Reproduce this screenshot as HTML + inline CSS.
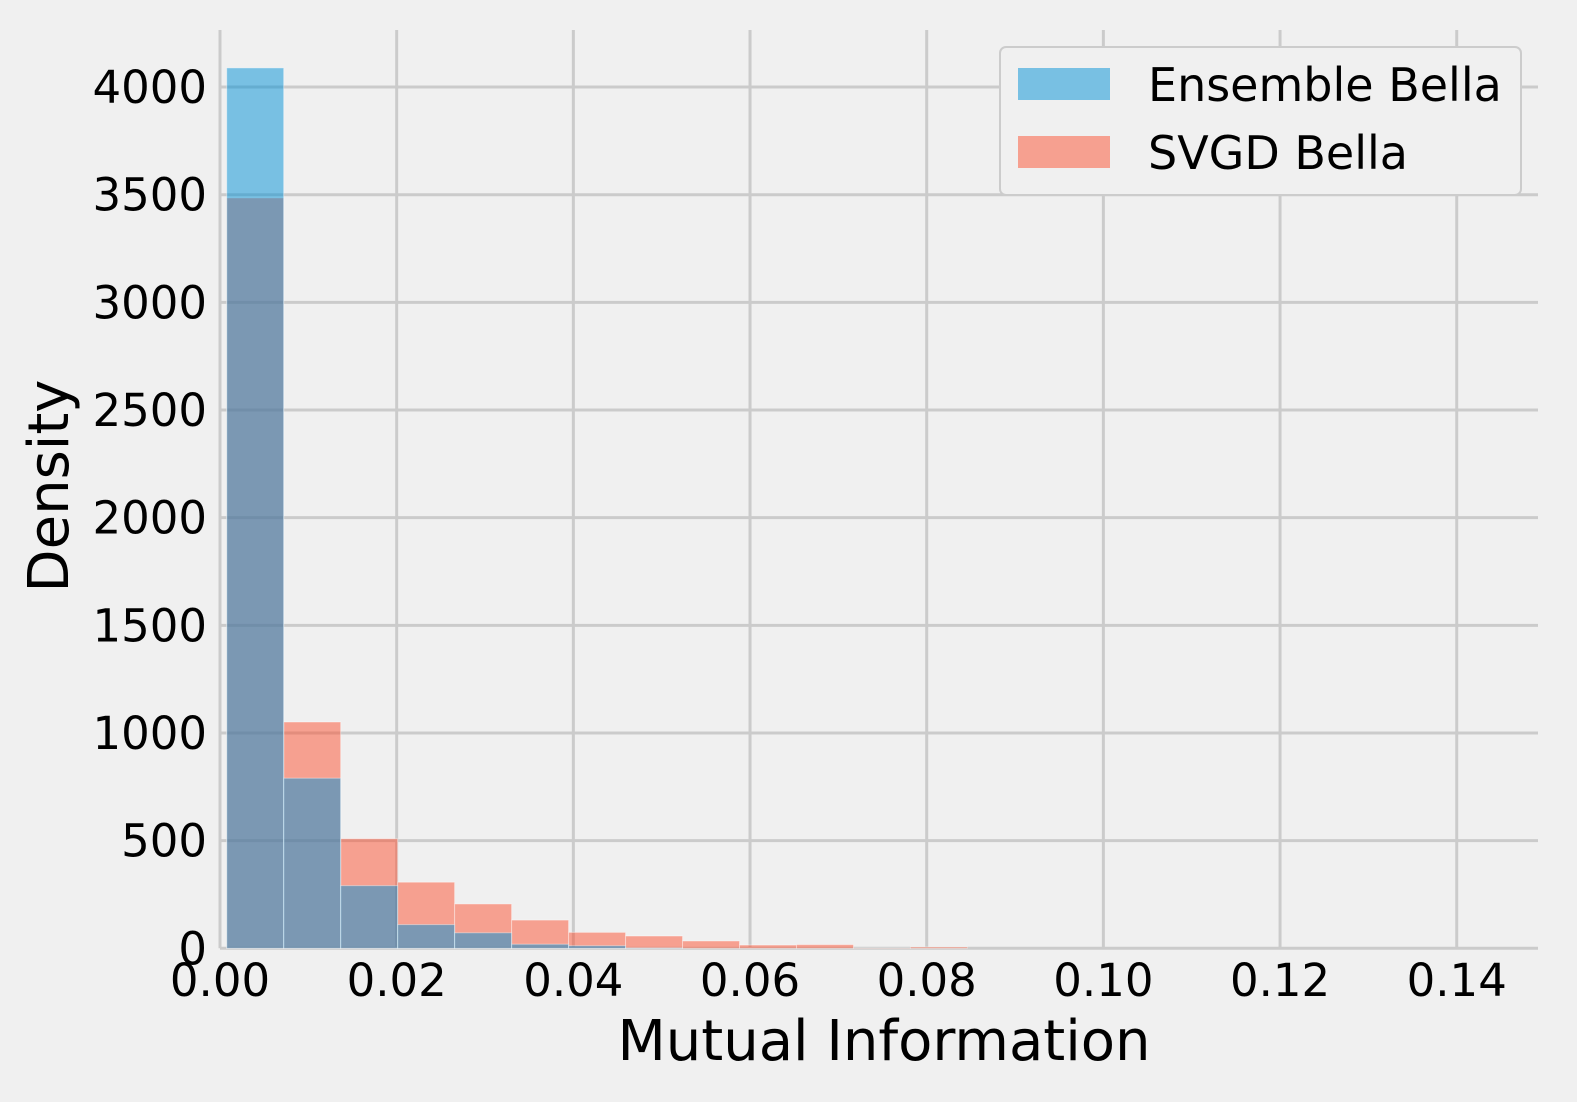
<!DOCTYPE html>
<html><head><meta charset="utf-8"><style>
html,body{margin:0;padding:0;background:#f0f0f0;}
svg{display:block;font-family:"DejaVu Sans","Liberation Sans",sans-serif;}
</style></head><body>
<svg id="chart" width="1577" height="1102" viewBox="0 0 1577 1102">
<rect x="0" y="0" width="1577" height="1102" fill="#f0f0f0"/>
<g id="grid"></g>
<g id="bars"></g>
<g id="ticks"></g>
<text x="884" y="1060" font-size="56" text-anchor="middle" fill="#000">Mutual Information</text>
<text transform="translate(68,486) rotate(-90)" font-size="56" text-anchor="middle" fill="#000">Density</text>
<g>
<rect x="1000" y="47" width="521" height="148" rx="6" fill="#f0f0f0" stroke="#cccccc" stroke-width="2"/>
<rect x="1018" y="68" width="92" height="32" fill="#008fd5" fill-opacity="0.5"/>
<text x="1148" y="101" font-size="46" fill="#000">Ensemble Bella</text>
<rect x="1018" y="136" width="92" height="32" fill="#fc4f30" fill-opacity="0.5"/>
<text x="1148" y="169" font-size="46" fill="#000">SVGD Bella</text>
</g>
</svg>
<script>
const binStart = 0.00076;
const binWidth = 0.00645;
const ensembleValues = [4089, 790, 291, 110, 72, 19, 12, 2, 0, 0, 0, 0, 0];
const svgdValues = [3485, 1051, 509, 307, 206, 131, 74, 57, 34, 15, 17, 1, 6];
const xTicks = [0, 0.02, 0.04, 0.06, 0.08, 0.10, 0.12, 0.14];
const xTickLabels = ["0.00","0.02","0.04","0.06","0.08","0.10","0.12","0.14"];
const yTicks = [0, 500, 1000, 1500, 2000, 2500, 3000, 3500, 4000];
const yTickLabels = ["0","500","1000","1500","2000","2500","3000","3500","4000"];

const NS = "http://www.w3.org/2000/svg";
const L = 220, R = 1538, T = 30, B = 948.3;
const xMax = 0.1492, yMax = 4265;
const xs = v => L + v / xMax * (R - L);
const ys = v => B - v / yMax * (B - T);
function mk(tag, attrs, parent) {
  const e = document.createElementNS(NS, tag);
  for (const k in attrs) e.setAttribute(k, attrs[k]);
  parent.appendChild(e);
  return e;
}
const grid = document.getElementById('grid');
const bars = document.getElementById('bars');
const ticks = document.getElementById('ticks');
xTicks.forEach((t, i) => {
  const ln = mk('line', {x1: xs(t), x2: xs(t), y1: T, y2: B, stroke: '#cbcbcb', 'stroke-width': 3}, grid);
  
  
  const tx = mk('text', {x: xs(t), y: 996, 'font-size': 45, 'text-anchor': 'middle', fill: '#000'}, ticks);
  tx.textContent = xTickLabels[i];
  
  
});
yTicks.forEach((t, i) => {
  const ln = mk('line', {x1: L, x2: R, y1: ys(t), y2: ys(t), stroke: '#cbcbcb', 'stroke-width': 3}, grid);
  
  
  const tx = mk('text', {x: 207, y: ys(t) + 16, 'font-size': 45, 'text-anchor': 'end', fill: '#000'}, ticks);
  tx.textContent = yTickLabels[i];
  
  
});
function drawSeries(vals, color, name) {
  vals.forEach((v, i) => {
    if (v <= 0) return;
    const x0 = xs(binStart + i * binWidth), x1 = xs(binStart + (i + 1) * binWidth);
    const r = mk('rect', {x: x0, y: ys(v), width: x1 - x0, height: B - ys(v), fill: color, 'fill-opacity': 0.5, stroke: '#ffffff', 'stroke-opacity': 0.4, 'stroke-width': 1}, bars);
    
    
  });
}
drawSeries(svgdValues, '#fc4f30', 'svgd-bar');
drawSeries(ensembleValues, '#008fd5', 'ensemble-bar');
</script>
</body></html>
